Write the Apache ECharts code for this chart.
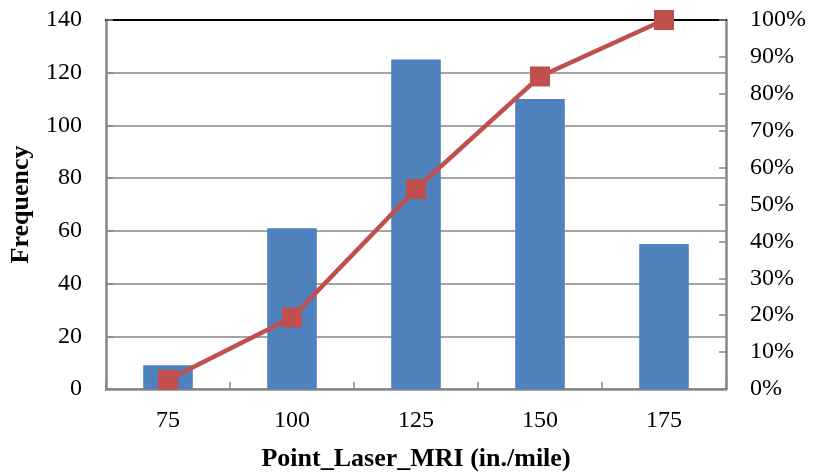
<!DOCTYPE html>
<html>
<head>
<meta charset="utf-8">
<script src="https://cdn.jsdelivr.net/npm/echarts@6/dist/echarts.min.js"></script>
<style>
  html, body { margin: 0; padding: 0; background: #fff; }
  #chart { width: 814px; height: 476px; }
</style>
</head>
<body>
<div id="chart"></div>
<script>
// Histogram bins of Point_Laser_MRI (in./mile)
const categories = ['75', '100', '125', '150', '175'];
// Count of sections per bin
const frequency = [9, 61, 125, 110, 55];
// Cumulative share of sections, percent
const cumulativePct = [2.5, 19.4, 54.2, 84.7, 100];

const SERIF = '"Liberation Serif", "Times New Roman", serif';
const GRAY = '#868686';

const chart = echarts.init(document.getElementById('chart'), null, { renderer: 'canvas' });

chart.setOption({
  animation: false,
  backgroundColor: '#ffffff',
  grid: { left: 106, right: 88, top: 20, bottom: 87, containLabel: false, outerBoundsMode: 'none' },
  xAxis: [
    {
      type: 'category',
      data: categories,
      position: 'bottom',
      name: 'Point_Laser_MRI (in./mile)',
      nameLocation: 'middle',
      nameGap: 57,
      nameTextStyle: { fontFamily: SERIF, fontSize: 26, fontWeight: 'bold', color: '#000' },
      axisLine: { show: true, onZero: false, lineStyle: { color: GRAY, width: 2.5 } },
      axisTick: { show: true, inside: true, length: 7, alignWithLabel: false, lineStyle: { color: GRAY, width: 1.5 } },
      axisLabel: { fontFamily: SERIF, fontSize: 24, color: '#000', margin: 20 },
      splitLine: { show: false }
    },
    {
      // plain black rule along the top edge of the plot area
      type: 'category',
      data: categories,
      position: 'top',
      axisLine: { show: true, onZero: false, lineStyle: { color: '#000', width: 2 } },
      axisTick: { show: false },
      axisLabel: { show: false },
      splitLine: { show: false }
    }
  ],
  yAxis: [
    {
      type: 'value',
      min: 0,
      max: 140,
      interval: 20,
      position: 'left',
      name: 'Frequency',
      nameLocation: 'middle',
      nameGap: 72,
      nameRotate: 90,
      nameTextStyle: { fontFamily: SERIF, fontSize: 26, fontWeight: 'bold', color: '#000' },
      axisLine: { show: true, onZero: false, lineStyle: { color: GRAY, width: 2.5 } },
      axisTick: { show: true, inside: true, length: 7, lineStyle: { color: GRAY, width: 1.5 } },
      axisLabel: { fontFamily: SERIF, fontSize: 24, color: '#000', margin: 24 },
      splitLine: { show: true, lineStyle: { color: GRAY, width: 1.5 } }
    },
    {
      type: 'value',
      min: 0,
      max: 100,
      interval: 10,
      position: 'right',
      axisLine: { show: true, onZero: false, lineStyle: { color: GRAY, width: 2.5 } },
      axisTick: { show: true, inside: true, length: 7, lineStyle: { color: GRAY, width: 1.5 } },
      axisLabel: { fontFamily: SERIF, fontSize: 24, color: '#000', margin: 24, formatter: '{value}%' },
      splitLine: { show: false }
    }
  ],
  series: [
    {
      name: 'Frequency',
      type: 'bar',
      data: frequency,
      xAxisIndex: 0,
      yAxisIndex: 0,
      barWidth: '40%',
      itemStyle: { color: '#4F81BD' },
      z: 2
    },
    {
      name: 'Cumulative %',
      type: 'line',
      data: cumulativePct,
      xAxisIndex: 0,
      yAxisIndex: 1,
      symbol: 'rect',
      symbolSize: 20,
      lineStyle: { color: '#C0504D', width: 4.5 },
      itemStyle: { color: '#C0504D' },
      z: 5
    }
  ]
});
</script>
</body>
</html>
